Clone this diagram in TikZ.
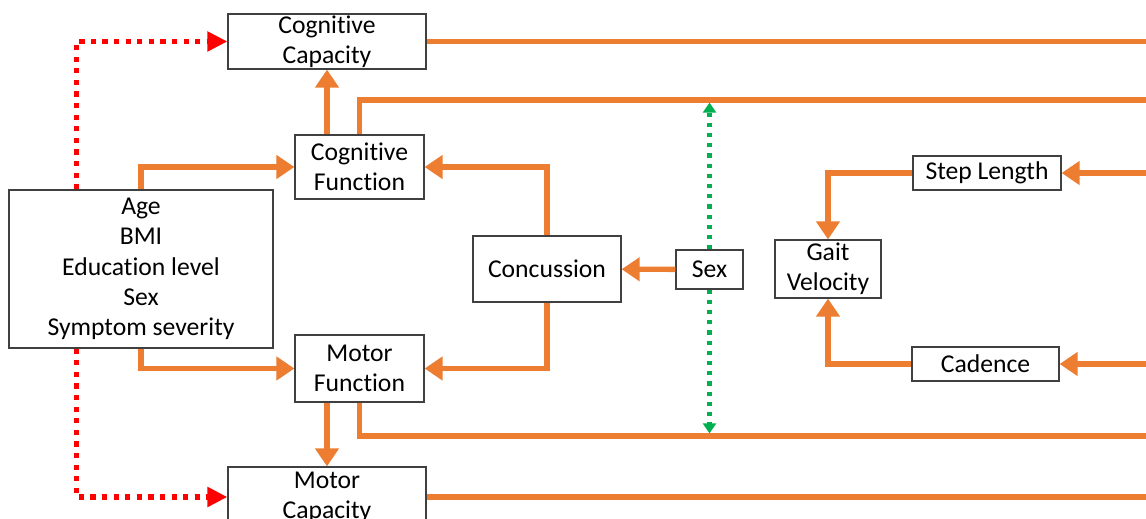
\documentclass[tikz,border=0pt]{standalone}
\usepackage{fontspec}
\setmainfont{Carlito}[Ligatures=NoCommon]
\usepackage{tikz}
\usetikzlibrary{arrows.meta}

\definecolor{flowor}{HTML}{ED7D31}
\definecolor{depred}{HTML}{FF0000}
\definecolor{sexgreen}{HTML}{00B050}

\begin{document}
\begin{tikzpicture}[
    x=0.02cm, y=-0.02cm,
    every node/.style={font=\fontsize{14.6}{17.2}\selectfont},
    box/.style={rectangle, draw=black!75, line width=0.7pt, inner sep=0pt, align=center},
    line/.style={draw=flowor, line width=3pt},
    flow/.style={line, -{Triangle[length=0.36cm, width=0.46cm]}},
    dep/.style={draw=depred, line width=3pt, dash pattern=on 3pt off 3.6pt, -{Triangle[length=0.4cm, width=0.38cm]}},
    sexlink/.style={draw=sexgreen, line width=2.4pt, dash pattern=on 2.4pt off 3.4pt, -{Triangle[length=0.2cm, width=0.26cm]}, shorten >=1.5pt}
]
\useasboundingbox (0,0) rectangle (1146,519);

\node (cogcap) [box, minimum width=3.96cm, minimum height=1.1cm] at (327,41.5) {Cognitive\\Capacity};
\node (cogfun) [box, minimum width=2.58cm, minimum height=1.28cm] at (359.5,167) {Cognitive\\Function};
\node (covars) [box, minimum width=5.28cm, minimum height=3.16cm] at (141,269) {Age\\BMI\\Education level\\Sex\\Symptom severity};
\node (motfun) [box, minimum width=2.58cm, minimum height=1.34cm] at (359.5,368.5) {Motor\\Function};
\node (motcap) [box, minimum width=3.96cm, minimum height=1.2cm] at (327,497) {Motor\\Capacity};
\node (conc) [box, minimum width=2.96cm, minimum height=1.32cm] at (547,269) {Concussion};
\node (sex) [box, minimum width=1.34cm, minimum height=0.78cm] at (709.5,269.5) {Sex};
\node (gait) [box, minimum width=2.12cm, minimum height=1.16cm] at (828,269) {Gait\\Velocity};
\node (steplen) [box, minimum width=2.96cm, minimum height=0.68cm] at (987,173) {Step Length};
\node (cad) [box, minimum width=2.94cm, minimum height=0.68cm] at (985.5,364) {Cadence};

% right edge and the two rails
\coordinate (edge) at (1146,0);
\coordinate (toprail) at (1146,100);
\coordinate (botrail) at (1146,436);

\draw[line] (cogcap.east) -- (cogcap.east -| edge);
\draw[line] (cogfun.north) |- (toprail);
\draw[line] (motfun.south) |- (botrail);
\draw[line] (motcap.east) -- (motcap.east -| edge);

\draw[flow] (cogcap |- cogfun.north) -- (cogcap);
\draw[flow] (cogcap |- motfun.south) -- (motcap);
\draw[flow] (covars.north) |- (cogfun);
\draw[flow] (covars.south) |- (motfun);
\draw[flow] (conc.north) |- (cogfun);
\draw[flow] (conc.south) |- (motfun);
\draw[flow] (sex) -- (conc);

\draw[dep] ([xshift=1.36cm]covars.north west) |- (cogcap);
\draw[dep] ([xshift=1.36cm]covars.south west) |- (motcap);

\draw[sexlink] (sex.north) -- (sex.north |- toprail);
\draw[sexlink] (sex.south) -- (sex.south |- botrail);

\draw[flow] (steplen.east -| edge) -- (steplen);
\draw[flow] (steplen) -| (gait);
\draw[flow] (cad.east -| edge) -- (cad);
\draw[flow] (cad) -| (gait);
\end{tikzpicture}
\end{document}
